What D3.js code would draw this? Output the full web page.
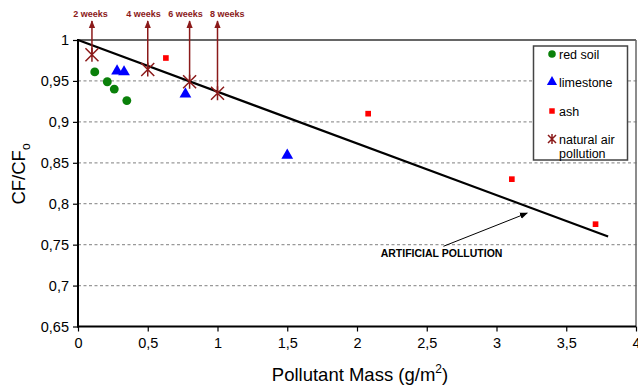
<!DOCTYPE html>
<html>
<head>
<meta charset="utf-8">
<script src="https://cdn.jsdelivr.net/npm/d3@7"></script>
<style>
  body { margin: 0; background: #fff; }
  svg text { font-family: "Liberation Sans", Arial, sans-serif; }
</style>
</head>
<body>
<svg id="chart" width="638" height="386"></svg>
<script>
// data
const redSoilX = [0.12, 0.21, 0.26, 0.35];
const redSoilY = [0.961, 0.949, 0.940, 0.926];
const limestoneX = [0.28, 0.33, 0.77, 1.5];
const limestoneY = [0.962, 0.961, 0.934, 0.859];
const ashX = [0.63, 2.08, 3.11, 3.71];
const ashY = [0.978, 0.910, 0.830, 0.775];
const naturalX = [0.1, 0.5, 0.8, 1.0];
const naturalY = [0.982, 0.964, 0.949, 0.935];
const weekLabels = ['2 weeks', '4 weeks', '6 weeks', '8 weeks'];
const weekLabelX = [0.09, 0.47, 0.77, 1.07];
const trendX = [0, 3.8];
const trendY = [1, 0.76];
const xTicks = [0, 0.5, 1, 1.5, 2, 2.5, 3, 3.5, 4];
const yTicks = [0.65, 0.7, 0.75, 0.8, 0.85, 0.9, 0.95, 1];
const legendLabels = ['red soil', 'limestone', 'ash', 'natural air'];

const svg = d3.select('#chart');
const plotL = 78, plotR = 636, plotT = 40, plotB = 326.5;

const x = d3.scaleLinear().domain([0, 4]).range([plotL, plotR]);
const y = d3.scaleLinear().domain([0.65, 1]).range([plotB, plotT]);
const comma = d => d3.format('.2~f')(d).replace('.', ',');

const RED = '#ff0000', BLUE = '#0000ff', GREEN = '#0a800a', DARKRED = '#8b1a1a';

// gridlines
svg.append('g')
  .selectAll('line')
  .data(yTicks.filter(v => v > 0.65 && v < 1))
  .join('line')
  .attr('x1', plotL).attr('x2', 638)
  .attr('y1', d => y(d)).attr('y2', d => y(d))
  .attr('stroke', '#999')
  .attr('stroke-width', 1.3)
  .attr('stroke-dasharray', '3,2.5');

// frame top + right
svg.append('line').attr('x1', plotL).attr('x2', plotR).attr('y1', plotT).attr('y2', plotT)
  .attr('stroke', '#333').attr('stroke-width', 1.5);
svg.append('line').attr('x1', plotR).attr('x2', plotR).attr('y1', plotT).attr('y2', plotB)
  .attr('stroke', '#666').attr('stroke-width', 1.5);

// axes
const yAxis = svg.append('g')
  .attr('transform', `translate(${plotL},0)`)
  .call(d3.axisLeft(y).tickValues(yTicks).tickSize(5).tickPadding(4).tickFormat(comma));
const xAxis = svg.append('g')
  .attr('transform', `translate(0,${plotB})`)
  .call(d3.axisBottom(x).tickValues(xTicks).tickSize(5).tickPadding(6).tickFormat(comma));
[yAxis, xAxis].forEach(g => {
  g.select('.domain').remove();
  g.selectAll('.tick line').attr('stroke', '#000').attr('stroke-width', 1.2);
  g.selectAll('.tick text').attr('fill', '#000')
    .style('font-size', '14.5px')
    .style('font-family', '"Liberation Sans", Arial, sans-serif');
});
svg.append('line').attr('x1', plotL).attr('x2', plotL).attr('y1', plotT - 1).attr('y2', plotB + 1)
  .attr('stroke', '#000').attr('stroke-width', 2);
svg.append('line').attr('x1', plotL - 1).attr('x2', plotR).attr('y1', plotB).attr('y2', plotB)
  .attr('stroke', '#000').attr('stroke-width', 2);

// axis titles
svg.append('text')
  .attr('x', 360).attr('y', 381)
  .attr('text-anchor', 'middle')
  .style('font-size', '18.5px')
  .html('Pollutant Mass (g/m<tspan dy="-8" style="font-size:12px">2</tspan><tspan dy="8">)</tspan>');
svg.append('text')
  .attr('transform', 'translate(25,174) rotate(-90)')
  .attr('text-anchor', 'middle')
  .style('font-size', '18.5px')
  .html('CF/CF<tspan dy="5" style="font-size:12px">o</tspan>');

// trend line
svg.append('path')
  .datum(trendX.map((v, i) => [v, trendY[i]]))
  .attr('d', d3.line().x(d => x(d[0])).y(d => y(d[1])))
  .attr('fill', 'none')
  .attr('stroke', '#000')
  .attr('stroke-width', 2.2);

// arrow heads
const defs = svg.append('defs');
function marker(id, color, size) {
  defs.append('marker')
    .attr('id', id)
    .attr('viewBox', '0 0 10 10')
    .attr('refX', 9).attr('refY', 5)
    .attr('markerWidth', size).attr('markerHeight', size)
    .attr('markerUnits', 'userSpaceOnUse')
    .attr('orient', 'auto')
    .append('path').attr('d', 'M0,1 L10,5 L0,9 Z').attr('fill', color);
}
marker('arrDark', DARKRED, 8);
marker('arrBlack', '#000', 8);

// week arrows + labels
naturalX.forEach((v, i) => {
  svg.append('line')
    .attr('x1', x(v)).attr('x2', x(v))
    .attr('y1', y(naturalY[i])).attr('y2', 21)
    .attr('stroke', DARKRED).attr('stroke-width', 1.5)
    .attr('marker-end', 'url(#arrDark)');
  svg.append('text')
    .attr('x', x(weekLabelX[i])).attr('y', 16.5)
    .attr('text-anchor', 'middle')
    .attr('fill', DARKRED)
    .style('font-size', '9px').style('font-weight', 'bold')
    .text(weekLabels[i]);
});

// points
const circle = d3.symbol().type(d3.symbolCircle).size(62);
const tri = d3.symbol().type(d3.symbolTriangle).size(60);
const sq = d3.symbol().type(d3.symbolSquare).size(32);
const star = 'M-6.5,-6.5L6.5,6.5M-6.5,6.5L6.5,-6.5M0,-7L0,7';

svg.append('g').selectAll('path').data(redSoilX.map((v, i) => [v, redSoilY[i]]))
  .join('path').attr('d', circle).attr('fill', GREEN)
  .attr('transform', d => `translate(${x(d[0])},${y(d[1])})`);
svg.append('g').selectAll('path').data(limestoneX.map((v, i) => [v, limestoneY[i]]))
  .join('path').attr('d', tri).attr('fill', BLUE)
  .attr('transform', d => `translate(${x(d[0])},${y(d[1])})`);
svg.append('g').selectAll('path').data(ashX.map((v, i) => [v, ashY[i]]))
  .join('path').attr('d', sq).attr('fill', RED)
  .attr('transform', d => `translate(${x(d[0])},${y(d[1])})`);
svg.append('g').selectAll('path').data(naturalX.map((v, i) => [v, naturalY[i]]))
  .join('path').attr('d', star).attr('fill', 'none')
  .attr('stroke', DARKRED).attr('stroke-width', 1.5)
  .attr('transform', d => `translate(${x(d[0])},${y(d[1])})`);

// artificial pollution annotation
svg.append('line')
  .attr('x1', x(2.62)).attr('y1', y(0.748))
  .attr('x2', x(3.22)).attr('y2', y(0.7885))
  .attr('stroke', '#000').attr('stroke-width', 1)
  .attr('marker-end', 'url(#arrBlack)');
svg.append('text')
  .attr('x', x(2.17)).attr('y', y(0.7347))
  .style('font-size', '10.5px').style('font-weight', 'bold')
  .text('ARTIFICIAL POLLUTION');

// legend
const lg = svg.append('g');
lg.append('rect')
  .attr('x', 533.5).attr('y', 46).attr('width', 94).attr('height', 114)
  .attr('fill', '#fff').attr('stroke', '#444').attr('stroke-width', 1.5);
const rows = [54, 82, 111, 139];
const syms = [
  sel => sel.append('path').attr('d', d3.symbol().type(d3.symbolCircle).size(45)).attr('fill', GREEN),
  sel => sel.append('path').attr('d', d3.symbol().type(d3.symbolTriangle).size(45)).attr('fill', BLUE),
  sel => sel.append('path').attr('d', d3.symbol().type(d3.symbolSquare).size(30)).attr('fill', RED),
  sel => sel.append('path').attr('d', 'M-4,-4L4,4M-4,4L4,-4M0,-5L0,5').attr('stroke', DARKRED).attr('stroke-width', 1.5)
];
legendLabels.forEach((lab, i) => {
  const g = lg.append('g').attr('transform', `translate(552,${rows[i]})`);
  syms[i](g);
  lg.append('text').attr('x', 559).attr('y', rows[i] + 4.5)
    .style('font-size', '12.5px').text(lab);
});
lg.append('text').attr('x', 559).attr('y', 157.5).style('font-size', '12.5px').text('pollution');
</script>
</body>
</html>
